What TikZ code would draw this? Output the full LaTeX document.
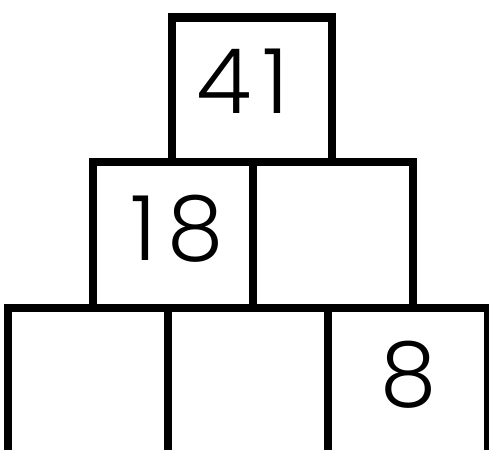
\documentclass[tikz,border=0pt]{standalone}
\usepackage{fontspec}
\setmainfont{Poppins}[UprightFont=* Light]
\usetikzlibrary{positioning}

\tikzset{
  cell/.style={draw=black, line width=8.5pt, minimum width=160pt, minimum height=146pt, inner sep=0pt},
  num/.style={font=\fontsize{90}{90}\selectfont\addfontfeature{LetterSpace=12}, inner sep=0pt, anchor=base}
}

\begin{document}
\begin{tikzpicture}[x=1pt, y=-1pt]
  \clip (0,0) rectangle (489,449);
  \fill[white] (0,0) rectangle (489,449);

  % top row
  \node[cell, minimum height=144.5pt] (c41) at (251.75,89.75) {};

  % middle row
  \node[cell] (c18) at (172.9,235) {};
  \node[cell] (cmid) at (332.75,235) {};

  % bottom row
  \node[cell] (cbl) at (88.2,381) {};
  \node[cell] (cbm) at (248.2,381) {};
  \node[cell] (cb8) at (408.2,381) {};

  % numbers
  \node[num] (n41) at (243,113.3) {41};
  \node[num] (n18) at (177.5,260) {18};
  \node[num] (n8) at (408.3,406.5) {8};
\end{tikzpicture}
\end{document}
